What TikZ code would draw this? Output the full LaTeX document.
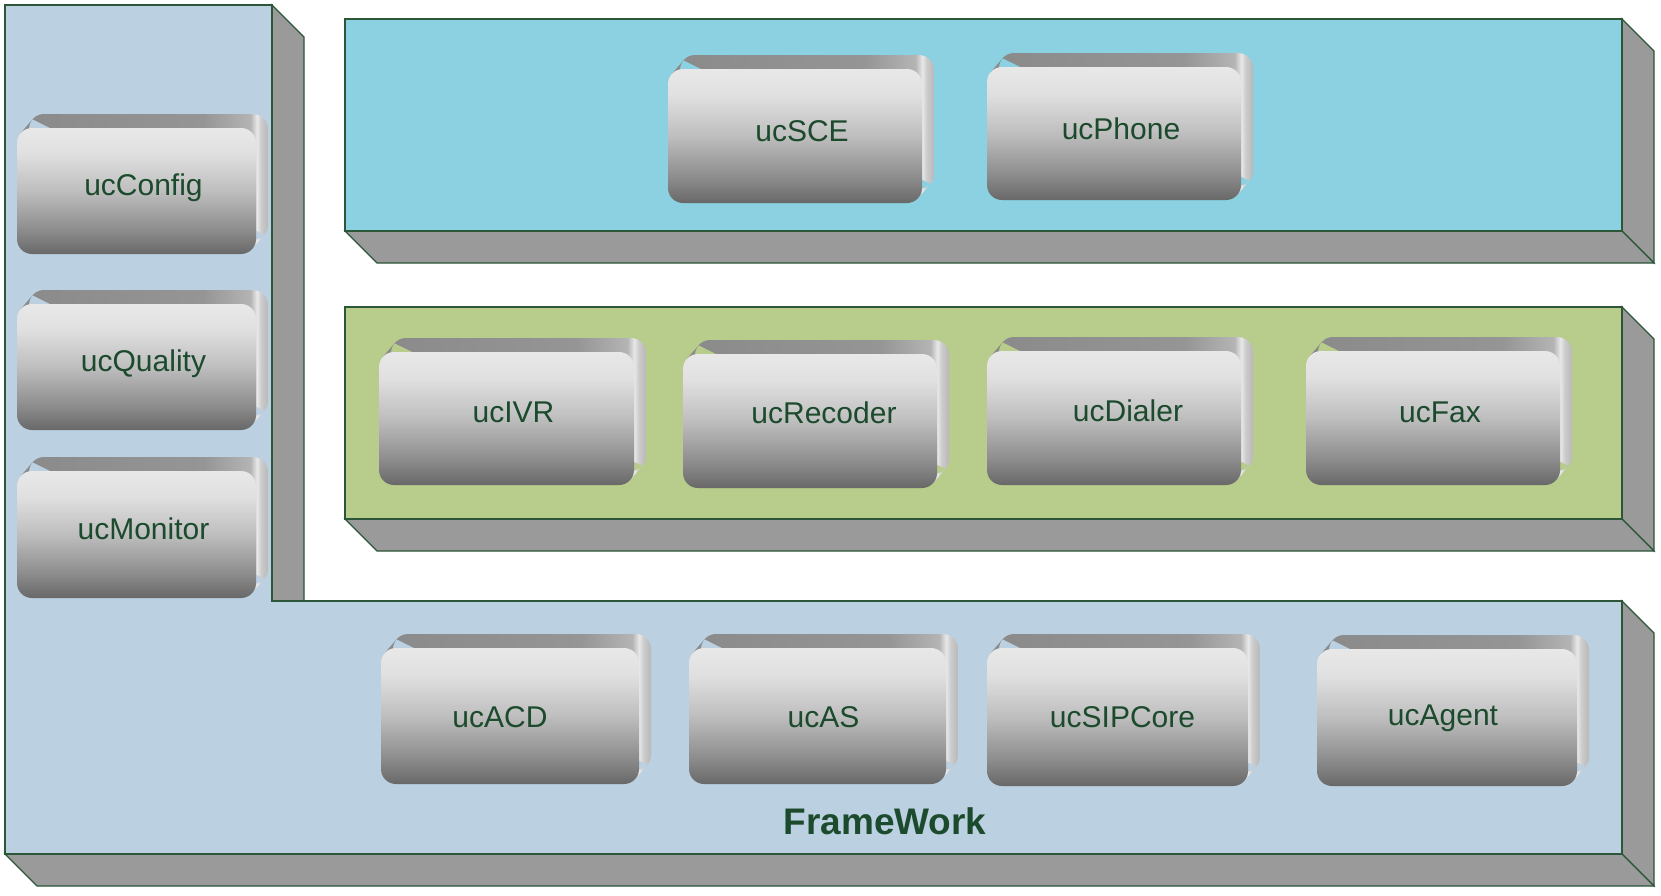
\documentclass[tikz,border=0pt]{standalone}
\usepackage{fontspec}
\setmainfont{Liberation Sans}
\definecolor{frameblue}{HTML}{BBD0E1}
\definecolor{framecyan}{HTML}{8BD1E1}
\definecolor{framegreen}{HTML}{B8CC8C}
\definecolor{sidegrey}{HTML}{9A9A9A}
\definecolor{edgegreen}{HTML}{2B5638}
\definecolor{txtgreen}{HTML}{1B4A2C}
\definecolor{bvA}{HTML}{8A8A8A}
\definecolor{bvB}{HTML}{959595}
\definecolor{bvB2}{HTML}{B4B4B4}
\definecolor{bvHi}{HTML}{E8E8E8}
\definecolor{bvC}{HTML}{CCCCCC}
\definecolor{bvD}{HTML}{B8B8B8}
\definecolor{fA}{HTML}{686868}
\definecolor{fB}{HTML}{8E8E8E}
\definecolor{fC}{HTML}{BEBEBE}
\definecolor{fD}{HTML}{E0E0E0}
\definecolor{fE}{HTML}{E8E8E8}
\pgfdeclarehorizontalshading{bevelsh}{100bp}{color(0bp)=(bvA); color(25bp)=(bvA); color(62bp)=(bvB); color(71.5bp)=(bvB2); color(72.8bp)=(bvHi); color(73.6bp)=(bvC); color(75bp)=(bvD); color(100bp)=(bvD)}
\pgfdeclareverticalshading{frontsh}{100bp}{color(0bp)=(fA); color(25bp)=(fA); color(35bp)=(fB); color(50bp)=(fC); color(65bp)=(fD); color(75bp)=(fE); color(100bp)=(fE)}
\tikzset{
  framefront/.style={draw=edgegreen, line width=1.2pt, line join=miter},
  frameside/.style={fill=sidegrey, draw=edgegreen, line width=1.2pt, line join=miter},
  btnlabel/.style={text=txtgreen, font=\fontsize{30}{35}\selectfont, inner sep=0pt},
  titlelabel/.style={text=txtgreen, font=\fontsize{37}{42}\selectfont\bfseries, inner sep=0pt}
}
% #1 name, #2 x1, #3 y1, #4 x2, #5 y2 (front face), #6 label, #7 #8 label offset
\newcommand\ucbtn[8]{%
  \begin{scope}
    \clip (#2+3.6,#3+5.2) -- (#2+15.6,#3-8.8) -- (#4+8.4,#5-19.2) -- (#4-3.6,#5-5.2) -- cycle
      [rounded corners=15pt] (#2+12,#3-14) rectangle (#4+12,#5-14);
    \shade[shading=bevelsh] (#2,#3-14) rectangle (#4+12,#5);
  \end{scope}
  \shade[shading=frontsh, rounded corners=15pt] (#2,#3) rectangle (#4,#5);
  \node[btnlabel] (#1) at ({(#2+#4+12)/2+#7},{(#3+#5-14)/2+#8}) {#6};
}
\begin{document}
\begin{tikzpicture}[x=1pt,y=-1pt]
\useasboundingbox (0,0) rectangle (1661,895);
% L-shaped framework
\draw[frameside] (272,5) -- (304,37) -- (304,601) -- (272,601) -- cycle;
\draw[frameside] (1622,601) -- (1654,633) -- (1654,886) -- (1622,854) -- cycle;
\draw[frameside] (5,854) -- (37,886) -- (1654,886) -- (1622,854) -- cycle;
\draw[framefront, fill=frameblue] (5,5) -- (272,5) -- (272,601) -- (1622,601) -- (1622,854) -- (5,854) -- cycle;
% cyan layer
\draw[frameside] (1622,19) -- (1654,51) -- (1654,263) -- (1622,231) -- cycle;
\draw[frameside] (345,231) -- (377,263) -- (1654,263) -- (1622,231) -- cycle;
\draw[framefront, fill=framecyan] (345,19) rectangle (1622,231);
% green layer
\draw[frameside] (1622,307) -- (1654,339) -- (1654,551) -- (1622,519) -- cycle;
\draw[frameside] (345,519) -- (377,551) -- (1654,551) -- (1622,519) -- cycle;
\draw[framefront, fill=framegreen] (345,307) rectangle (1622,519);
% buttons
\ucbtn{config}{17}{128}{256}{254}{ucConfig}{1}{4}
\ucbtn{quality}{17}{304}{256}{430}{ucQuality}{1}{4}
\ucbtn{monitor}{17}{471}{256}{598}{ucMonitor}{1}{1}
\ucbtn{sce}{668}{69}{922}{203}{ucSCE}{1}{2}
\ucbtn{phone}{987}{67}{1241}{200}{ucPhone}{1}{2}
\ucbtn{ivr}{379}{352}{634}{485}{ucIVR}{1}{1}
\ucbtn{recoder}{683}{354}{937}{488}{ucRecoder}{8}{-1}
\ucbtn{dialer}{987}{351}{1241}{485}{ucDialer}{8}{0}
\ucbtn{fax}{1306}{351}{1560}{485}{ucFax}{1}{1}
\ucbtn{acd}{381}{648}{639}{784}{ucACD}{-16}{8}
\ucbtn{as}{689}{648}{946}{784}{ucAS}{0}{8}
\ucbtn{sipcore}{987}{648}{1248}{786}{ucSIPCore}{-1}{7}
\ucbtn{agent}{1317}{649}{1577}{786}{ucAgent}{-10}{8}
\node[titlelabel] (framework) at (885,821) {FrameWork};
\end{tikzpicture}
\end{document}
